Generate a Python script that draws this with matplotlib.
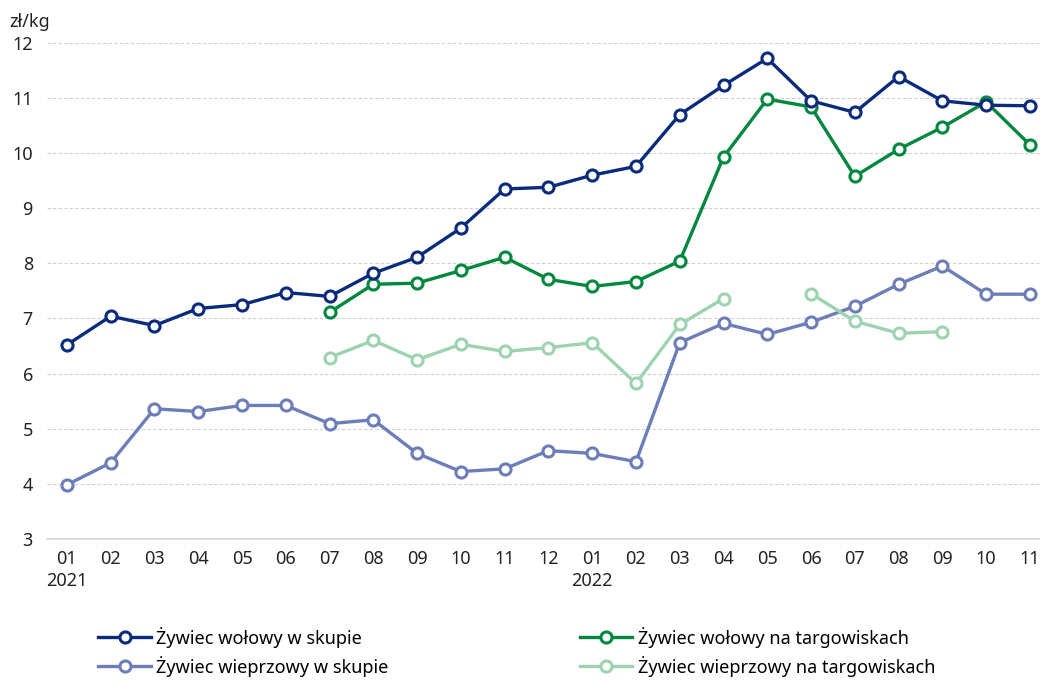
import numpy as np
import matplotlib.pyplot as plt

plt.rcParams['font.family'] = ['Noto Sans', 'DejaVu Sans']

# months Jan 2021 - Nov 2022
months = ["01", "02", "03", "04", "05", "06", "07", "08", "09", "10", "11", "12",
          "01", "02", "03", "04", "05", "06", "07", "08", "09", "10", "11"]
years = {0: "2021", 12: "2022"}

nan = np.nan
wol_skup = [6.52, 7.04, 6.87, 7.18, 7.25, 7.47, 7.40, 7.82, 8.11, 8.64, 9.35, 9.38,
            9.60, 9.76, 10.70, 11.23, 11.72, 10.95, 10.74, 11.39, 10.95, 10.87, 10.86]
wol_targ = [nan, nan, nan, nan, nan, nan, 7.11, 7.62, 7.64, 7.87, 8.11, 7.71,
            7.58, 7.67, 8.04, 9.93, 10.98, 10.84, 9.58, 10.07, 10.47, 10.93, 10.15]
wiep_skup = [3.98, 4.38, 5.36, 5.31, 5.42, 5.42, 5.09, 5.16, 4.55, 4.22, 4.27, 4.60,
             4.55, 4.40, 6.56, 6.91, 6.71, 6.93, 7.22, 7.62, 7.95, 7.44, 7.44]
wiep_targ = [nan, nan, nan, nan, nan, nan, 6.29, 6.60, 6.25, 6.53, 6.40, 6.47,
             6.56, 5.82, 6.89, 7.36, nan, 7.45, 6.95, 6.73, 6.76, nan, nan]

labels = ["Żywiec wołowy w skupie", "Żywiec wieprzowy w skupie",
          "Żywiec wołowy na targowiskach", "Żywiec wieprzowy na targowiskach"]
colors = ["#0a2a7c", "#6c7db8", "#00883e", "#9dd3b0"]
series = [wol_skup, wiep_skup, wol_targ, wiep_targ]

fig = plt.figure(figsize=(10.4, 6.82), dpi=100)
ax = fig.add_axes([0.045, 0.21, 0.955, 0.727])

x = np.arange(len(months))
# draw in the stacking order of the original
order = [1, 3, 2, 0]
handles = [None] * 4
for i in order:
    h, = ax.plot(x, series[i], color=colors[i], linewidth=2.4, marker="o",
                 markersize=8, markerfacecolor="white", markeredgewidth=2.2,
                 markeredgecolor=colors[i], label=labels[i], zorder=3)
    handles[i] = h

ax.set_ylim(3, 12)
ax.set_xlim(-0.46, 22.23)
ax.set_yticks(range(3, 13))
ticklabels = [m + ("\n" + years[i] if i in years else "") for i, m in enumerate(months)]
ax.set_xticks(x)
ax.set_xticklabels(ticklabels, fontsize=13, color="#222222", linespacing=1.3)
ax.tick_params(axis="y", labelsize=13, labelcolor="#222222", length=0, pad=10)
ax.tick_params(axis="x", length=0, pad=8)
for lab in ax.get_xticklabels():
    lab.set_verticalalignment("top")
ax.yaxis.grid(True, linestyle=(0, (3, 2)), color="#d0d0d0", linewidth=0.8)
ax.set_axisbelow(True)
for s in ["top", "right", "left"]:
    ax.spines[s].set_visible(False)
ax.spines["bottom"].set_color("#d6d6d6")
ax.spines["bottom"].set_linewidth(1.2)

fig.text(0.009, 0.955, "zł/kg", fontsize=13, color="#222222", va="bottom")

fig.legend(handles=handles, labels=labels, ncol=2, loc="lower left",
           bbox_to_anchor=(0.079, -0.016), frameon=False, fontsize=13,
           handlelength=2.9, handletextpad=0.3, columnspacing=10.6,
           labelspacing=0.45)

fig.savefig("out.png", dpi=100)
